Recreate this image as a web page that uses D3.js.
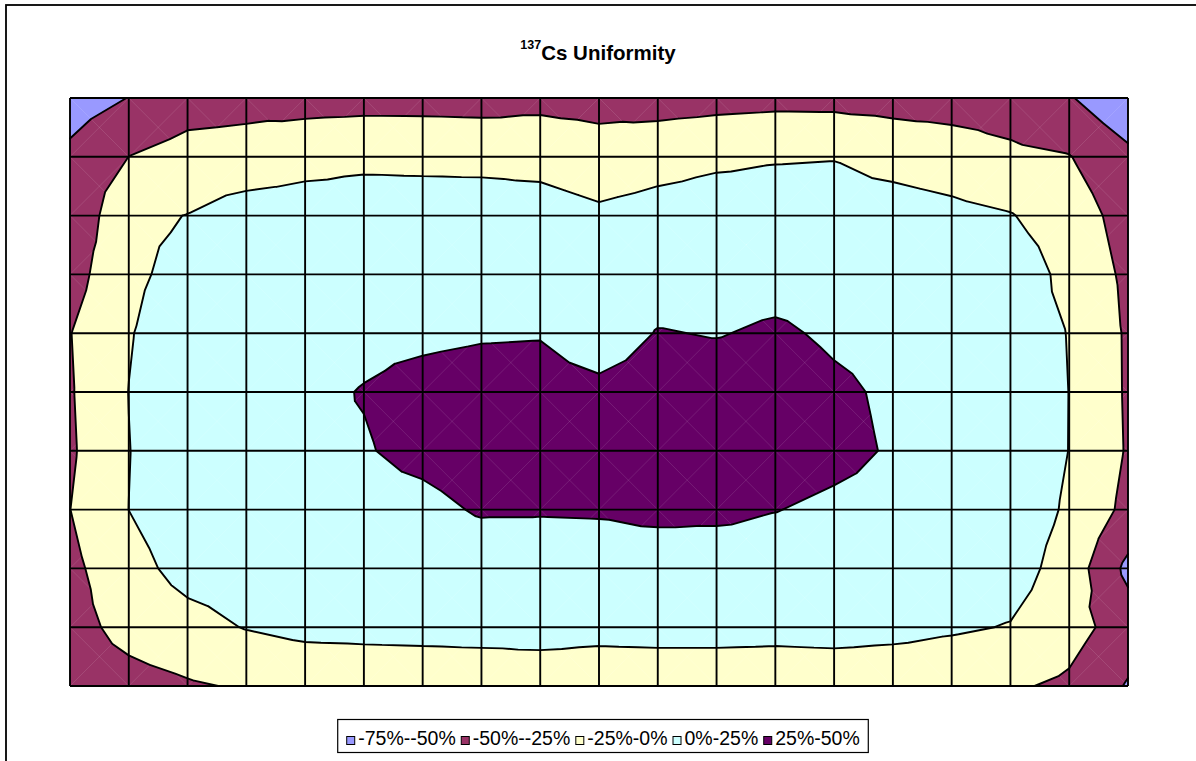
<!DOCTYPE html>
<html><head><meta charset="utf-8">
<script src="https://cdn.jsdelivr.net/npm/d3@7"></script>
<style>
html,body{margin:0;padding:0;background:#fff;}
svg{display:block;font-family:"Liberation Sans",Arial,Helvetica,sans-serif;}
</style>
</head><body>
<svg id="chart" width="1196" height="761"></svg>
<script>
// ---- data (percent deviation), rows top -> bottom, 19 columns ----
const bandBreaks = [-75, -50, -25, 0, 25, 50];
const bandLabels = ["-75%--50%", "-50%--25%", "-25%-0%", "0%-25%", "25%-50%"];
const titleSup = "137";
const titleMain = "Cs Uniformity";

const row0  = [-62, -49.5, -37.2, -33.8, -34.8, -33.9, -34.0, -34.9, -32.1, -34.1, -35.9, -33.7, -32.0, -32.6, -34.4, -35.9, -37.2, -48, -70];
const row1  = [-44.6, -24.8, -15, -13.8, -7.2, -4.3, -4.9, -5.4, -7.5, -13.4, -8, -3.7, -1.5, -0.8, -7.5, -12.2, -20, -24, -44];
const row2  = [-45, -5, 0.5, 10, 10, 10, 10, 10, 10, 4, 8, 10, 10, 10, 10, 6, 1.2, -12, -34.8];
const row3  = [-35, -5, 8, 14, 15, 16, 17, 18, 18, 12, 15, 16, 17, 16, 15, 14, 14.9, -7, -29.8];
const row4  = [-25.7, -1.5, 15.2, 17, 19, 21.6, 21.9, 23.5, 24, 13.9, 26, 24, 28, 22, 19, 16, 12.5, -0.8, -28];
const row5  = [-27, 0.3, 16, 19, 22, 25.6, 30, 32, 32, 30, 34, 36, 35, 28.5, 22, 17, 14, -0.2, -27.8];
const row6  = [-28.3, -0.5, 16.2, 19, 23, 24, 28.8, 33, 34, 33, 35, 36, 34, 30, 23.3, 18, 14.7, -0.3, -27.1];
const row7  = [-25.2, 0.1, 14, 17, 18, 20, 21, 26.5, 26.5, 27, 30, 29, 25.5, 21.5, 19, 16, 13.7, -3, -31.5];
const row8  = [-31, -8, 8, 12, 13, 14, 15, 15.8, 14, 14.5, 13.3, 14.7, 15.5, 15, 14, 13, 10.4, -10, -56];
const row9  = [-34, -17, -8, 1.1, 6.7, 7.4, 8.0, 9.2, 11.5, 8.5, 9.2, 9.2, 8.5, 9.6, 7.4, 3.1, -1.15, -15, -37.2];
const row10 = [-40, -33.7, -27.5, -22.7, -20, -18, -17, -17, -18, -18, -17, -17, -18, -17, -18, -19, -22, -29.3, -52];

const grid = [row0, row1, row2, row3, row4, row5, row6, row7, row8, row9, row10];
const bandColors = ["#9999FF", "#993366", "#FFFFCC", "#CCFFFF", "#660066"];

// ---- layout ----
const svg = d3.select("#chart");
const nCols = grid[0].length, nRows = grid.length;
const x = d3.scaleLinear().domain([0, nCols - 1]).range([70, 1128]);
const y = d3.scaleLinear().domain([0, nRows - 1]).range([98, 686]);

// chart area border (extends beyond the view on right/bottom)
svg.append("rect").attr("x", 6).attr("y", 5).attr("width", 1400).attr("height", 1000)
  .attr("fill", "none").attr("stroke", "#000").attr("stroke-width", 1.8);

// ---- triangulate each cell into 4 triangles around the centre ----
const tris = [];
for (let j = 0; j < nRows - 1; j++) {
  for (let i = 0; i < nCols - 1; i++) {
    const a = {c: i, r: j, v: grid[j][i]};
    const b = {c: i + 1, r: j, v: grid[j][i + 1]};
    const cc = {c: i + 1, r: j + 1, v: grid[j + 1][i + 1]};
    const d = {c: i, r: j + 1, v: grid[j + 1][i]};
    const m = {c: i + 0.5, r: j + 0.5, v: (a.v + b.v + cc.v + d.v) / 4};
    tris.push([a, b, m], [b, cc, m], [cc, d, m], [d, a, m]);
  }
}
function lerp(p, q, t) {
  const f = (t - p.v) / (q.v - p.v);
  return {c: p.c + f * (q.c - p.c), r: p.r + f * (q.r - p.r), v: t};
}
function clip(poly, t, above) {
  const out = [];
  const inside = p => above ? p.v >= t : p.v < t;
  for (let k = 0; k < poly.length; k++) {
    const p = poly[k], q = poly[(k + 1) % poly.length];
    const pi = inside(p), qi = inside(q);
    if (pi) out.push(p);
    if (pi !== qi) out.push(lerp(p, q, t));
  }
  return out;
}
const pt = p => x(p.c).toFixed(2) + "," + y(p.r).toFixed(2);

const gFill = svg.append("g");
for (let b = 0; b < bandColors.length; b++) {
  const lo = bandBreaks[b], hi = bandBreaks[b + 1];
  let dstr = "";
  tris.forEach(tri => {
    let poly = clip(tri, b === 0 ? -1e9 : lo, true);
    if (poly.length < 3) return;
    poly = clip(poly, b === bandColors.length - 1 ? 1e9 : hi, false);
    if (poly.length < 3) return;
    dstr += "M" + poly.map(pt).join("L") + "Z";
  });
  gFill.append("path").attr("d", dstr).attr("fill", bandColors[b]).attr("stroke", "none");
}

// faint triangle seams (diagonals)
const diag = [];
for (let j = 0; j < nRows - 1; j++) for (let i = 0; i < nCols - 1; i++) {
  diag.push("M" + x(i) + "," + y(j) + "L" + x(i + 1) + "," + y(j + 1));
  diag.push("M" + x(i + 1) + "," + y(j) + "L" + x(i) + "," + y(j + 1));
}
svg.append("path").attr("d", diag.join("")).attr("stroke", "#fff").attr("stroke-opacity", 0.14)
  .attr("stroke-width", 0.8).attr("fill", "none");

// grid lines
const gGrid = svg.append("g").attr("stroke", "#000").attr("stroke-width", 1.9);
d3.range(nCols).forEach(i => gGrid.append("line").attr("x1", x(i)).attr("x2", x(i)).attr("y1", y(0)).attr("y2", y(nRows - 1)));
d3.range(nRows).forEach(j => gGrid.append("line").attr("x1", x(0)).attr("x2", x(nCols - 1)).attr("y1", y(j)).attr("y2", y(j)));

// contour lines
let cstr = "";
bandBreaks.slice(1, -1).forEach(t => {
  tris.forEach(tri => {
    const pts = [];
    for (let k = 0; k < 3; k++) {
      const p = tri[k], q = tri[(k + 1) % 3];
      if ((p.v >= t) !== (q.v >= t)) pts.push(lerp(p, q, t));
    }
    if (pts.length === 2) cstr += "M" + pt(pts[0]) + "L" + pt(pts[1]);
  });
});
svg.append("path").attr("d", cstr).attr("stroke", "#000").attr("stroke-width", 1.9)
  .attr("stroke-linecap", "round").attr("fill", "none");

// title
const title = svg.append("text").attr("x", 598).attr("y", 60).attr("text-anchor", "middle")
  .attr("font-weight", "bold").attr("font-size", 20.5).attr("fill", "#000");
title.append("tspan").attr("font-size", 12.5).attr("dy", -11.5).text(titleSup);
title.append("tspan").attr("dy", 11.5).text(titleMain);

// legend
const lg = svg.append("g");
let cx = 0;
bandLabels.forEach((lab, k) => {
  const g = lg.append("g");
  g.append("rect").attr("x", cx + 0.5).attr("y", 736.5).attr("width", 8).attr("height", 8)
    .attr("fill", bandColors[k]).attr("stroke", "#000").attr("stroke-width", 1);
  const t = g.append("text").attr("x", cx + 12).attr("y", 745).attr("font-size", 19.5).attr("fill", "#000").text(lab);
  cx += 12 + t.node().getComputedTextLength() + 5;
});
const legendW = cx - 5;
const lx = 603 - legendW / 2;
lg.attr("transform", "translate(" + lx + ",0)");
svg.append("rect").attr("x", lx - 8.5).attr("y", 719.5).attr("width", legendW + 17).attr("height", 33)
  .attr("fill", "none").attr("stroke", "#000").attr("stroke-width", 1.2);
</script>
</body></html>
